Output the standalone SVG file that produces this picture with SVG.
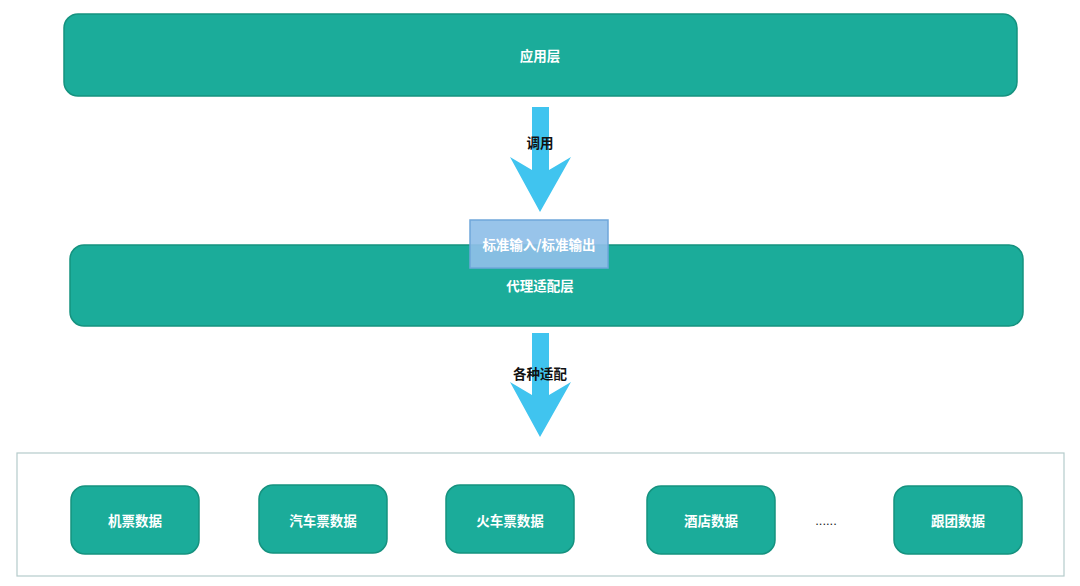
<svg xmlns="http://www.w3.org/2000/svg" width="1080" height="586" viewBox="0 0 1080 586">
<style>
.layer{fill:#1bac9a;stroke:#15927f;stroke-width:1.5}
.node{fill:#1bac9a;stroke:#15927f;stroke-width:1.5}
.t{font-family:"Noto Sans CJK SC","Noto Sans",sans-serif;font-weight:bold;font-size:13.5px;fill:#ffffff;text-anchor:middle;dominant-baseline:central}
.lbl{font-family:"Noto Sans CJK SC","Noto Sans",sans-serif;font-weight:bold;font-size:13.5px;fill:#111111;text-anchor:middle;dominant-baseline:central}
.arrow{fill:#40c4ef}
</style>
<rect width="1080" height="586" fill="#ffffff"/>
<g id="connectors">
<polygon class="arrow" points="532,107 549,107 549,170 571,157 540,212 510,157 532,170"/>
<polygon class="arrow" points="532,333 549,333 549,395 571,382 540,437 510,382 532,395"/>
<text class="lbl" x="540" y="142">调用</text>
<text class="lbl" x="540" y="373">各种适配</text>
</g>
<g id="app-layer">
<rect class="layer" x="64" y="14" width="953" height="82" rx="14"/>
<text class="t" x="540" y="55">应用层</text>
</g>
<g id="proxy-layer">
<rect class="layer" x="70" y="245" width="953" height="81" rx="14"/>
<text class="t" x="540" y="285">代理适配层</text>
</g>
<g id="std-io">
<rect x="470" y="220" width="138" height="48" fill="#8fbfe8" fill-opacity="0.92" stroke="#6fa6da" stroke-width="1.5"/>
<text class="t" x="539" y="244">标准输入/标准输出</text>
</g>
<g id="data-container">
<rect x="17" y="453" width="1047" height="123" fill="#ffffff" stroke="#b5cbcb" stroke-width="1.2"/>
</g>
<g id="flight">
<rect class="node" x="71" y="486" width="128" height="68" rx="14"/>
<text class="t" x="135" y="520">机票数据</text>
</g>
<g id="bus">
<rect class="node" x="259" y="485" width="128" height="68" rx="14"/>
<text class="t" x="323" y="520">汽车票数据</text>
</g>
<g id="train">
<rect class="node" x="446" y="485" width="128" height="68" rx="14"/>
<text class="t" x="510" y="520">火车票数据</text>
</g>
<g id="hotel">
<rect class="node" x="647" y="486" width="128" height="68" rx="14"/>
<text class="t" x="711" y="520">酒店数据</text>
</g>
<g id="ellipsis">
<text x="826" y="520" font-family="'Liberation Sans',sans-serif" font-size="13" fill="#222222" text-anchor="middle" dominant-baseline="central">......</text>
</g>
<g id="tour">
<rect class="node" x="894" y="486" width="128" height="68" rx="14"/>
<text class="t" x="958" y="520">跟团数据</text>
</g>
</svg>
